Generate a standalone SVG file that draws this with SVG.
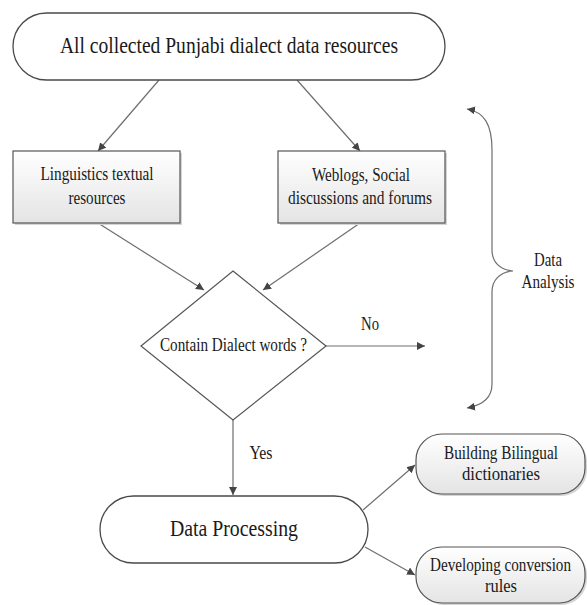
<svg xmlns="http://www.w3.org/2000/svg" width="587" height="605" viewBox="0 0 587 605">
<style>
  text { font-family: "Liberation Serif", "Times New Roman", "DejaVu Serif", serif; fill: #1a1a1a; text-anchor: middle; }
  .big { font-size: 23px; }
  .mid { font-size: 18px; }
  .pill { fill: #ffffff; stroke: #4a4a4a; stroke-width: 1.3; }
  .box { fill: url(#grad); stroke: #555555; stroke-width: 1.2; }
  .shadow { fill: #d4d4d4; }
  .conn { fill: none; stroke: #6e6e6e; stroke-width: 1.2; marker-end: url(#arrow); }
  .brace { fill: none; stroke: #6e6e6e; stroke-width: 1.2; marker-start: url(#arrow); marker-end: url(#arrow); }
  .dia { fill: #ffffff; stroke: #555555; stroke-width: 1.2; }
</style>
<defs>
  <linearGradient id="grad" x1="0" y1="0" x2="0" y2="1">
    <stop offset="0" stop-color="#ffffff"/>
    <stop offset="1" stop-color="#e4e4e4"/>
  </linearGradient>
  <marker id="arrow" viewBox="0 0 10 10" refX="10" refY="5" markerWidth="8" markerHeight="8" markerUnits="userSpaceOnUse" orient="auto-start-reverse">
    <path d="M0,0 L10,5 L0,10 z" fill="#444444"/>
  </marker>
</defs>

<g id="connectors">
  <path class="conn" d="M159,80 L98,151"/>
  <path class="conn" d="M297,80 L360,151"/>
  <path class="conn" d="M98,223 L204,290"/>
  <path class="conn" d="M360,223 L263,290"/>
  <path class="conn" d="M326,346 L425,346"/>
  <path class="conn" d="M233,420 L233,495"/>
  <path class="conn" d="M363,510 L415,465"/>
  <path class="conn" d="M365,547 L415,575"/>
  <path class="brace" d="M467,109 C484,112 492,124 492,150 L492,250 C492,262 500,270 513,271 C500,272 492,280 492,292 L492,384 C492,397 484,405 467,408"/>
</g>

<g id="node-all-collected">
  <rect class="pill" x="13" y="13" width="432" height="67" rx="33.5" ry="33.5"/>
  <text class="big" font-family="Liberation Serif, serif" x="229" y="53" textLength="338" lengthAdjust="spacingAndGlyphs">All collected Punjabi dialect data resources</text>
</g>

<g id="node-linguistics">
  <rect class="shadow" x="15" y="153" width="167" height="72"/>
  <rect class="box" x="13" y="151" width="167" height="72"/>
  <text class="mid" font-family="Liberation Serif, serif" x="97" y="180" textLength="113" lengthAdjust="spacingAndGlyphs">Linguistics textual</text>
  <text class="mid" font-family="Liberation Serif, serif" x="97" y="204" textLength="57" lengthAdjust="spacingAndGlyphs">resources</text>
</g>

<g id="node-weblogs">
  <rect class="shadow" x="280" y="153" width="167" height="72"/>
  <rect class="box" x="278" y="151" width="167" height="72"/>
  <text class="mid" font-family="Liberation Serif, serif" x="361" y="181" textLength="98" lengthAdjust="spacingAndGlyphs">Weblogs, Social</text>
  <text class="mid" font-family="Liberation Serif, serif" x="360" y="204" textLength="144" lengthAdjust="spacingAndGlyphs">discussions and forums</text>
</g>

<g id="node-decision">
  <polygon class="dia" points="233,271 326,346 233,420 141,346"/>
  <text class="mid" font-family="Liberation Serif, serif" x="233.5" y="351" textLength="147" lengthAdjust="spacingAndGlyphs">Contain Dialect words ?</text>
</g>

<g id="label-no">
  <text class="mid" font-family="Liberation Serif, serif" x="370" y="330" textLength="18" lengthAdjust="spacingAndGlyphs">No</text>
</g>

<g id="label-yes">
  <text class="mid" font-family="Liberation Serif, serif" x="261" y="459" textLength="23" lengthAdjust="spacingAndGlyphs">Yes</text>
</g>

<g id="label-data-analysis">
  <text class="mid" font-family="Liberation Serif, serif" x="548" y="266" textLength="28" lengthAdjust="spacingAndGlyphs">Data</text>
  <text class="mid" font-family="Liberation Serif, serif" x="548" y="288" textLength="53" lengthAdjust="spacingAndGlyphs">Analysis</text>
</g>

<g id="node-data-processing">
  <rect class="pill" x="100" y="496" width="268" height="67" rx="33.5" ry="33.5"/>
  <text class="big" font-family="Liberation Serif, serif" x="234" y="536" textLength="128" lengthAdjust="spacingAndGlyphs">Data Processing</text>
</g>

<g id="node-bilingual">
  <rect class="shadow" x="418" y="436" width="169" height="60" rx="26" ry="26"/>
  <rect class="box" x="416" y="434" width="169" height="60" rx="26" ry="26"/>
  <text class="mid" font-family="Liberation Serif, serif" x="501" y="459" textLength="114" lengthAdjust="spacingAndGlyphs">Building Bilingual</text>
  <text class="mid" font-family="Liberation Serif, serif" x="501" y="480" textLength="78" lengthAdjust="spacingAndGlyphs">dictionaries</text>
</g>

<g id="node-conversion">
  <rect class="shadow" x="418" y="549" width="169" height="56" rx="26" ry="26"/>
  <rect class="box" x="416" y="547" width="169" height="56" rx="26" ry="26"/>
  <text class="mid" font-family="Liberation Serif, serif" x="500.5" y="571" textLength="141" lengthAdjust="spacingAndGlyphs">Developing conversion</text>
  <text class="mid" font-family="Liberation Serif, serif" x="501" y="592" textLength="32" lengthAdjust="spacingAndGlyphs">rules</text>
</g>
</svg>
